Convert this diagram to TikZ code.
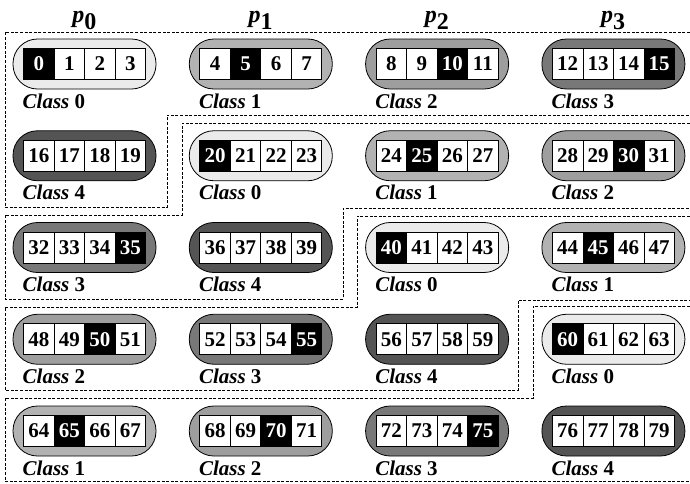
\documentclass[tikz,border=0pt]{standalone}
\usepackage{fontspec}
\setmainfont{Liberation Serif}
\usetikzlibrary{patterns}
\definecolor{cls0}{gray}{0.92}
\definecolor{cls1}{gray}{0.70}
\definecolor{cls2}{gray}{0.62}
\definecolor{cls3}{gray}{0.47}
\definecolor{cls4}{gray}{0.33}
\begin{document}
\begin{tikzpicture}[x=1pt,y=-1pt,
  pill/.style={draw=black, line width=0.8pt, rounded corners=24.5pt,
    minimum width=143pt, minimum height=50pt, inner sep=0pt},
  cellbox/.style={draw=black, line width=0.7pt, fill=white, minimum width=30.5pt,
    minimum height=31pt, inner sep=0pt, text=black,
    font=\fontsize{21}{22}\selectfont\bfseries},
  blackcell/.style={cellbox, fill=black, text=white},
  classlbl/.style={anchor=west, inner sep=0pt, font=\fontsize{21}{23}\selectfont\bfseries},
  plabel/.style={inner sep=0pt, anchor=base, font=\fontsize{24}{26}\selectfont\bfseries},
  region/.style={draw=black, line width=0.6pt, dash pattern=on 3pt off 1.6pt}]
\useasboundingbox (0,0) rectangle (690,483);
% processor labels
\foreach \c in {0,...,3}{
  \pgfmathsetmacro\cx{84.5+176.3*\c}
  \node[plabel] (p\c) at (\cx,22) {\textit{p}$_{\textbf{\c}}$};
}
% blocks
\foreach \r in {0,...,4}{
  \foreach \c in {0,...,3}{
    \pgfmathtruncatemacro\b{\r*4+\c}
    \pgfmathtruncatemacro\k{mod(\b,5)}
    \pgfmathsetmacro\cx{84.5+176.3*\c}
    \pgfmathsetmacro\cy{64+91.75*\r}
    \pgfmathsetmacro\lx{\cx-62}
    \pgfmathsetmacro\ly{\cy+37}
    \node[pill, fill=cls\k] (pill\b) at (\cx,\cy) {};
    \foreach \j in {0,...,3}{
      \pgfmathtruncatemacro\n{\b*4+\j}
      \pgfmathsetmacro\px{\cx+(\j-1.5)*30.5}
      \ifnum\j=\k
        \node[blackcell] (c\n) at (\px,\cy) {\n};
      \else
        \node[cellbox] (c\n) at (\px,\cy) {\n};
      \fi
    }
    \node[classlbl] (lab\b) at (\lx,\ly) {\textit{Class} \k};
  }
}
% dashed staircase regions
\draw[region] (690,32) -- (5,32) -- (5,207) -- (167,207) -- (167,115) -- (690,115);
\draw[region] (690,123) -- (182,123) -- (182,215) -- (5,215) -- (5,299) -- (343,299) -- (343,208) -- (690,208);
\draw[region] (690,216) -- (357,216) -- (357,307) -- (5,307) -- (5,390) -- (518,390) -- (518,300) -- (690,300);
\draw[region] (690,306) -- (533,306) -- (533,398) -- (5,398) -- (5,481) -- (690,481);
\end{tikzpicture}
\end{document}
